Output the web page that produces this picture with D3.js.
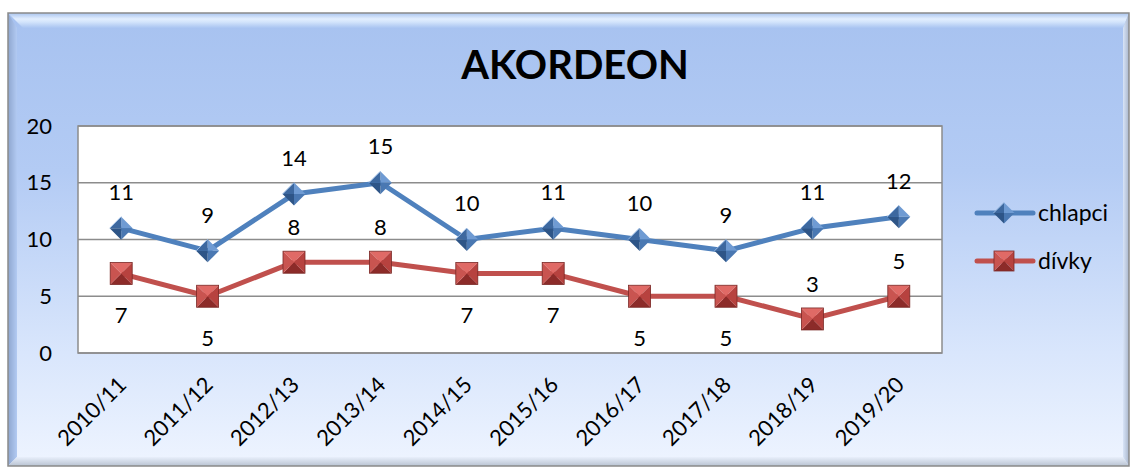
<!DOCTYPE html>
<html><head><meta charset="utf-8">
<script src="https://cdn.jsdelivr.net/npm/d3@7"></script>
<style>body{margin:0;background:#fff;}svg{display:block;font-family:Lato,"Open Sans",sans-serif;}</style>
</head><body>
<svg id="c" width="1131" height="468"></svg>
<script>
const title = "AKORDEON";
const categories = ["2010/11","2011/12","2012/13","2013/14","2014/15","2015/16","2016/17","2017/18","2018/19","2019/20"];
const chlapci = [11,9,14,15,10,11,10,9,11,12];
const divky = [7,5,8,8,7,7,5,5,3,5];
const divkyLabelSide = ["below","below","above","above","below","below","below","below","above","above"];
const yTicks = [0,5,10,15,20];
const seriesNames = ["chlapci","dívky"];

const svg = d3.select("#c");
const defs = svg.append("defs");
function lg(id, stops, x2, y2){
  const g = defs.append("linearGradient").attr("id",id).attr("x1",0).attr("y1",0).attr("x2",x2).attr("y2",y2);
  stops.forEach(s=>g.append("stop").attr("offset",s[0]).attr("stop-color",s[1]));
}
lg("bg",[[0,"#a7c2f0"],[0.35,"#b3cbf4"],[0.75,"#d9e6fc"],[1,"#eef4ff"]],0,1);
lg("topb",[[0,"#a9c4ee"],[0.4,"#e2eefe"],[0.6,"#d3e4fb"],[1,"#a9c4f1"]],0,1);
lg("leftb",[[0,"#8ea6cf"],[1,"#b2caf2"]],1,0);
lg("botb",[[0,"#e8effb"],[1,"#b9c3d2"]],0,1);
lg("rightb",[[0,"#d8e4f8"],[1,"#a9b6cb"]],1,0);

const X0=8,Y0=13,X1=1129,Y1=466;
svg.append("rect").attr("x",X0).attr("y",Y0).attr("width",X1-X0).attr("height",Y1-Y0).attr("fill","url(#bg)");
svg.append("path").attr("d",`M${X0},${Y0}L${X1},${Y0}L${X1-6},${Y0+15}L${X0+15},${Y0+15}Z`).attr("fill","url(#topb)");
svg.append("path").attr("d",`M${X0},${Y0}L${X0+9},${Y0+15}L${X0+9},${Y1-9}L${X0},${Y1}Z`).attr("fill","url(#leftb)");
svg.append("path").attr("d",`M${X0},${Y1}L${X0+9},${Y1-9}L${X1-6},${Y1-9}L${X1},${Y1}Z`).attr("fill","url(#botb)");
svg.append("path").attr("d",`M${X1},${Y0}L${X1-6},${Y0+15}L${X1-6},${Y1-9}L${X1},${Y1}Z`).attr("fill","url(#rightb)");
svg.append("rect").attr("x",X0).attr("y",Y0).attr("width",X1-X0).attr("height",Y1-Y0).attr("fill","none").attr("stroke","#8a8a8a").attr("stroke-width",1.5);

svg.append("text").attr("x",575).attr("y",79).attr("text-anchor","middle").attr("font-size",40).attr("font-weight","bold").attr("fill","#000").text(title);

const L=78,R=942,T=126,B=353;
const x = d3.scalePoint().domain(categories).range([L,R]).padding(0.5);
const y = d3.scaleLinear().domain([0,20]).range([B,T]);

svg.append("rect").attr("x",L).attr("y",T).attr("width",R-L).attr("height",B-T).attr("fill","#fff");
svg.append("g").selectAll("line").data(yTicks).join("line")
  .attr("x1",L).attr("x2",R).attr("y1",d=>y(d)).attr("y2",d=>y(d)).attr("stroke","#8c8c8c").attr("stroke-width",1.5);
svg.append("rect").attr("x",L).attr("y",T).attr("width",R-L).attr("height",B-T).attr("fill","none").attr("stroke","#8c8c8c").attr("stroke-width",1.5);

const ya = svg.append("g").attr("transform",`translate(${L},0)`).call(d3.axisLeft(y).tickValues(yTicks).tickSize(0).tickPadding(26));
ya.select(".domain").remove();
ya.selectAll("text").attr("font-size",22).attr("font-family","Lato").attr("fill","#000");

const xa = svg.append("g").attr("transform",`translate(0,${B})`).call(d3.axisBottom(x).tickSize(0));
xa.select(".domain").remove();
xa.selectAll("text").attr("font-size",22).attr("font-family","Lato").attr("fill","#000")
  .attr("text-anchor","end").attr("dy",0).attr("transform","translate(4,31) rotate(-45)");

const colors = {chlapci:"#4f81bd", divky:"#c0504d"};
const line = d3.line().x((d,i)=>x(categories[i])).y(d=>y(d));
svg.append("path").datum(chlapci).attr("d",line).attr("fill","none").attr("stroke",colors.chlapci).attr("stroke-width",5).attr("stroke-linejoin","round");
svg.append("path").datum(divky).attr("d",line).attr("fill","none").attr("stroke",colors.divky).attr("stroke-width",5).attr("stroke-linejoin","round");

function diamond(g, cx, cy, r){
  const sh = ["#6f9bd3","#4a78b2","#2e5587","#3d689f"];
  const pts = [[cx,cy-r],[cx+r,cy],[cx,cy+r],[cx-r,cy]];
  for(let k=0;k<4;k++){
    const a=pts[k], b=pts[(k+1)%4];
    g.append("path").attr("d",`M${cx},${cy}L${a[0]},${a[1]}L${b[0]},${b[1]}Z`).attr("fill",sh[k]);
  }
  g.append("path").attr("d",`M${pts[3][0]},${pts[3][1]}L${pts[0][0]},${pts[0][1]}`).attr("stroke","#9cbde6").attr("stroke-width",1);
}
function square(g, cx, cy, r){
  const sh = ["#e06a66","#b7423f","#8c2b29","#c95450"];
  const pts = [[cx-r,cy-r],[cx+r,cy-r],[cx+r,cy+r],[cx-r,cy+r]];
  for(let k=0;k<4;k++){
    const a=pts[k], b=pts[(k+1)%4];
    g.append("path").attr("d",`M${cx},${cy}L${a[0]},${a[1]}L${b[0]},${b[1]}Z`).attr("fill",sh[k]);
  }
  g.append("rect").attr("x",cx-r).attr("y",cy-r).attr("width",2*r).attr("height",2*r).attr("fill","none").attr("stroke","#7a2826").attr("stroke-width",0.8);
}
const mg = svg.append("g");
chlapci.forEach((v,i)=>diamond(mg, x(categories[i]), y(v), 11.5));
divky.forEach((v,i)=>square(mg, x(categories[i]), y(v), 11));

const lab = svg.append("g").attr("font-size",22).attr("fill","#000").attr("text-anchor","middle");
chlapci.forEach((v,i)=>lab.append("text").attr("x",x(categories[i])).attr("y",y(v)-36).attr("dy","0.35em").text(v));
divky.forEach((v,i)=>lab.append("text").attr("x",x(categories[i])).attr("y",y(v)+(divkyLabelSide[i]==="above"?-35:42)).attr("dy","0.35em").text(v));

const leg = svg.append("g");
[["chlapci",213],["dívky",261]].forEach(([n,ly],k)=>{
  leg.append("line").attr("x1",977).attr("x2",1033).attr("y1",ly).attr("y2",ly).attr("stroke",k===0?colors.chlapci:colors.divky).attr("stroke-width",5).attr("stroke-linecap","round");
  if(k===0) diamond(leg,1004,ly,10.5); else square(leg,1004,ly,10);
  leg.append("text").attr("x",1038).attr("y",ly).attr("dy","0.35em").attr("font-size",23).attr("fill","#000").text(seriesNames[k]);
});
</script>
</body></html>
